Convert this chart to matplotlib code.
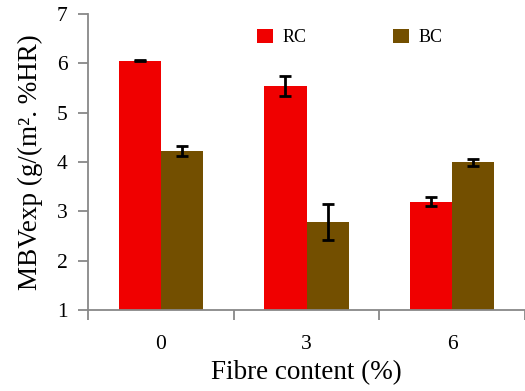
import numpy as np
import matplotlib.pyplot as plt

plt.rcParams['font.family'] = 'Liberation Serif'

fibre = ['0', '3', '6']
rc = [6.05, 5.54, 3.20]
rc_err = [0.01, 0.21, 0.10]
bc = [4.22, 2.79, 4.00]
bc_err = [0.10, 0.37, 0.07]

fig = plt.figure(figsize=(5.25, 3.91), dpi=100)
ax = fig.add_axes([0.168, 0.207, 0.832, 0.757])

x = np.arange(len(fibre))
w = 0.29
ax.bar(x - w/2, rc, w, color='#F00000', label='RC', zorder=2)
ax.bar(x + w/2, bc, w, color='#734F00', label='BC', zorder=2)
ax.errorbar(x - w/2, rc, yerr=rc_err, fmt='none', ecolor='black', elinewidth=2, capsize=4, capthick=2, zorder=3)
ax.errorbar(x + w/2, bc, yerr=bc_err, fmt='none', ecolor='black', elinewidth=2, capsize=4, capthick=2, zorder=3)

ax.set_xlim(-0.5, 2.5)
ax.set_ylim(1, 7)
ax.set_xticks(x)
ax.set_xticklabels(fibre)
ax.set_xticks([-0.5, 0.5, 1.5, 2.5], minor=True)
ax.tick_params(axis='x', which='major', length=0, labelsize=15.5, pad=18)
ax.tick_params(axis='x', which='minor', length=7, width=1.3, color='#888888', direction='out')
ax.tick_params(axis='y', length=7, width=1.3, color='#888888', labelsize=15.5, pad=8)

for s in ['top', 'right']:
    ax.spines[s].set_visible(False)
for s in ['left', 'bottom']:
    ax.spines[s].set_color('#888888')
    ax.spines[s].set_linewidth(1.3)

ax.set_xlabel('Fibre content (%)', fontsize=19.5, labelpad=4)
ax.set_ylabel('MBVexp (g/(m². %HR)', fontsize=19.5, labelpad=10)

ax.legend(loc='upper left', bbox_to_anchor=(0.35, 1.006), ncol=2, frameon=False, fontsize=13,
          handlelength=0.85, handleheight=0.85, columnspacing=4.8, handletextpad=0.55)

plt.savefig('out.png', dpi=100)
